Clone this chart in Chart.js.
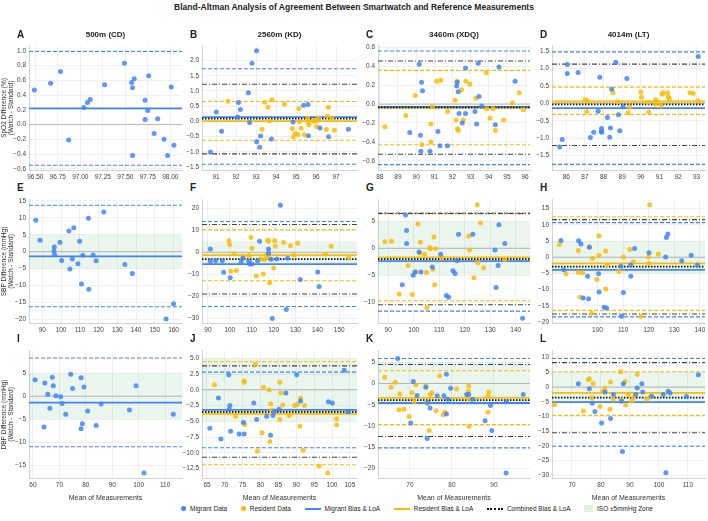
<!DOCTYPE html>
<html>
<head>
<meta charset="utf-8">
<script src="https://cdn.jsdelivr.net/npm/chart.js@4.4.0/dist/chart.umd.min.js"></script>
<style>
  body { margin: 0; width: 708px; height: 521px; background: #fff; position: relative; overflow: hidden;
         font-family: "Liberation Sans", Arial, sans-serif; color: #222; }
  .abs { position: absolute; }
  #title { left: 0; width: 708px; top: 2px; text-align: center; font-weight: bold; font-size: 8.5px; }
  .letter { font-weight: bold; font-size: 10px; }
  .ptitle { font-weight: bold; font-size: 8px; text-align: center; }
  #legend { left: 181px; width: 472px; top: 505px; display: flex; justify-content: space-between; align-items: center; font-size: 6.5px; }
  #legend span.item { display: flex; align-items: center; gap: 4px; }
  .dot { width: 5px; height: 5px; border-radius: 50%; display: inline-block; }
  .ln { width: 16px; height: 0; display: inline-block; }
  .sq { width: 9px; height: 7px; display: inline-block; }
</style>
</head>
<body>
<div id="title" class="abs">Bland-Altman Analysis of Agreement Between Smartwatch and Reference Measurements</div>
<div id="panels"></div>
<div id="legend" class="abs">
  <span class="item"><span class="dot" style="background:#4285F4"></span>Migrant Data</span>
  <span class="item"><span class="dot" style="background:#FBBC05"></span>Resident Data</span>
  <span class="item"><span class="ln" style="border-top:2px solid #4285F4"></span>Migrant Bias &amp; LoA</span>
  <span class="item"><span class="ln" style="border-top:2px solid #FBBC05"></span>Resident Bias &amp; LoA</span>
  <span class="item"><span class="ln" style="border-top:2px dotted #111"></span>Combined Bias &amp; LoA</span>
  <span class="item"><span class="sq" style="background:rgba(52,168,83,0.15)"></span>ISO ±5mmHg Zone</span>
</div>
<script>
// ---- data ----
const LETTERS = ['A','B','C','D','E','F','G','H','I','J','K','L'];
const COL_TITLES = ['500m (CD)', '2560m (KD)', '3460m (XDQ)', '4014m (LT)'];
const ROW_YTITLES = [
  ['SpO2 Difference (%)', '(Watch - Standard)'],
  ['SBP Difference (mmHg)', '(Watch - Standard)'],
  ['DBP Difference (mmHg)', '(Watch - Standard)']
];

// [mean, difference]
const migA = [[96.49,0.47],[96.67,0.56],[96.78,0.72],[96.87,-0.21],[97.04,0.23],[97.08,0.30],[97.11,0.34],[97.27,0.54],[97.49,0.83],[97.57,0.57],[97.58,0.50],[97.58,-0.42],[97.60,0.62],[97.72,0.33],[97.75,0.19],[97.76,0.66],[97.72,0.07],[97.86,0.08],[97.82,-0.12],[97.93,-0.20],[97.97,-0.42],[98.01,0.51],[98.04,-0.28]];
const migB = [[90.72,-1.01],[91.02,0.31],[91.28,-0.33],[92.08,0.14],[92.12,0.62],[92.22,0.39],[92.62,0.94],[92.68,-0.04],[92.8,1.91],[93.03,2.32],[93.03,-0.67],[93.18,-0.85],[93.23,-0.48],[93.77,-0.58],[94.85,-0.02],[95.38,0.53],[95.6,0.55],[95.62,-0.47],[96.2,-0.22],[96.63,-0.51],[97.62,-0.26]];
const resB = [[91.6,0.66],[93.3,-0.26],[93.43,0.63],[93.6,0.46],[93.67,0.01],[93.8,0.71],[94.42,0.56],[94.82,-0.24],[94.88,-0.51],[94.97,-0.40],[95.1,-0.43],[95.15,0.42],[95.18,-0.01],[95.25,-0.23],[95.42,-0.44],[95.58,0.10],[95.6,-0.04],[95.65,-0.11],[95.87,0.01],[95.92,0.03],[96.02,-0.17],[96.07,0.03],[96.12,0.09],[96.52,-0.27],[96.57,0.17],[96.62,0.46],[96.8,0.10],[96.92,-0.29]];
const migC = [[90.17,0.42],[90.3,0.23],[90.35,0.14],[89.65,-0.30],[90.24,-0.33],[90.26,-0.50],[90.76,-0.50],[91.2,-0.29],[91.31,-0.44],[91.73,-0.44],[92.23,0.19],[92.26,0.23],[92.32,0.13],[92.36,-0.10],[92.54,-0.20],[92.72,-0.10],[92.72,0.38],[93.24,-0.08],[93.33,-0.21],[93.42,0.43],[93.46,0.08],[93.61,-0.02],[94.36,-0.22],[94.56,0.39],[95.45,0.24]];
const resC = [[88.28,-0.24],[89.43,-0.12],[89.95,0.09],[90.32,-0.43],[90.81,-0.21],[90.81,-0.40],[90.9,-0.03],[91.13,0.24],[91.36,0.25],[91.73,-0.08],[92.15,0.04],[92.2,-0.17],[92.25,0.24],[92.28,-0.26],[92.32,-0.28],[92.5,0.15],[92.6,-0.17],[92.74,0.24],[92.96,0.21],[93.29,0.06],[93.86,0.33],[93.88,-0.05],[94.07,-0.15],[94.25,-0.05],[94.36,-0.28],[94.82,-0.17],[95.3,0.01],[95.68,0.12],[95.9,-0.06]];
const migD = [[85.64,-1.25],[85.78,-1.04],[86.05,1.11],[86.05,0.85],[86.63,0.88],[87.8,0.74],[87.71,-0.23],[87.29,-0.98],[87.47,-0.83],[87.89,-0.72],[87.89,-0.80],[87.9,-0.83],[88.21,-0.41],[88.33,-0.97],[88.37,-0.71],[88.44,0.40],[88.66,1.17],[88.8,-0.33],[88.87,-0.79],[89.05,-0.10],[89.25,0.71],[93.09,1.34]];
const resD = [[87.0,0.10],[87.13,0.07],[87.1,-0.24],[88.51,0.30],[88.75,0.04],[89.32,-0.27],[89.41,-0.11],[90.0,0.32],[90.04,0.17],[90.38,0.03],[90.43,-0.25],[90.76,-0.02],[90.81,0.10],[90.9,0.03],[91.1,-0.07],[91.15,0.26],[91.19,0.30],[91.44,0.30],[91.49,0.18],[91.53,0.13],[92.64,0.30],[92.82,0.28],[93.07,0.07]];
const migE = [[86.5,9.3],[88.8,3.4],[96.2,0.2],[96.4,1.4],[96.6,-0.9],[99.4,2.8],[100.3,-2.6],[104.2,6.1],[104.7,-5.1],[106.0,-2.2],[106.8,7.1],[109.0,-3.6],[109.9,3.1],[110.9,-9.6],[111.6,-1.1],[114.6,9.9],[114.8,-11.1],[117.1,-1.0],[118.7,-2.7],[122.8,11.7],[134.0,-3.8],[138.0,-6.5],[160.0,-15.4],[156.0,-19.9]];
const migF = [[91.1,1.5],[91.1,-4.1],[93.5,-3.8],[96.6,-3.8],[97.2,-9.0],[100.2,-11.5],[105.2,-4.4],[105.9,-2.7],[108.6,-4.1],[109.1,-5.3],[110.1,-5.3],[112.7,-3.8],[113.6,5.0],[117.7,1.5],[117.7,-0.4],[118.8,-3.1],[119.4,-30.0],[121.6,-3.0],[123.1,21.4],[126.4,-2.7],[125.8,-26.0],[132.2,-12.4],[140.2,-8.9],[140.8,-15.5]];
const resF = [[99.6,5.2],[99.9,3.6],[100.4,-8.6],[102.0,-0.6],[103.0,-8.3],[106.3,-1.8],[108.8,-1.5],[109.7,6.7],[110.1,1.9],[112.1,-10.8],[113.9,-3.0],[115.3,-9.8],[115.8,-3.4],[116.7,-1.5],[117.3,5.5],[117.7,5.0],[117.4,-2.4],[118.2,-13.8],[120.0,-7.1],[120.5,5.2],[120.8,2.7],[124.6,4.4],[127.7,3.0],[129.2,-1.2],[131.0,4.1],[143.7,-0.9],[146.3,2.7],[154.3,-2.4]];
const migG = [[96.8,6.2],[97.2,3.3],[97.2,0.9],[95.5,-6.8],[99.8,-5.0],[100.5,-4.4],[102.1,-0.7],[102.8,-4.4],[107.3,-3.5],[110.6,-1.1],[112.8,-8.8],[113.7,-9.1],[115.4,-4.2],[116.2,-4.7],[117.0,-2.3],[117.6,2.6],[123.2,2.6],[131.9,-0.3],[132.3,-7.3],[133.1,-3.2],[133.4,4.4],[135.7,0.9],[142.7,-13.0]];
const resG = [[88.7,1.2],[91.3,1.3],[94.3,-8.5],[97.8,-3.2],[99.5,-8.6],[100.8,-4.4],[101.7,4.5],[102.6,1.1],[102.4,-0.9],[104.3,-1.1],[105.0,-4.5],[106.3,0.1],[106.5,-0.1],[107.6,-3.9],[108.0,2.1],[108.6,-0.1],[108.2,-6.8],[105.2,-11.0],[111.0,-1.8],[121.6,2.3],[121.9,-0.3],[123.6,-5.5],[124.9,8.1],[125.2,-2.7],[126.2,4.7],[127.4,-3.6],[135.7,-2.1]];
const migH = [[85.7,5.2],[86.8,-3.9],[92.6,5.1],[93.5,4.1],[94.4,-12.6],[96.1,-5.9],[96.5,-12.8],[96.8,3.1],[100.4,-5.1],[100.6,-10.7],[102.6,-15.4],[103.5,-15.7],[109.1,-2.8],[109.4,-18.2],[110.1,-10.9],[113.0,-2.4],[113.0,-5.9],[114.5,2.7],[120.1,1.4],[126.6,0.1],[126.9,6.1],[127.5,7.2],[132.9,-1.1],[136.6,0.6],[139.0,-2.4]];
const resH = [[85.1,3.9],[87.7,-5.1],[92.5,2.1],[92.5,-4.7],[93.2,-12.3],[94.2,-4.9],[96.8,3.2],[98.1,-0.4],[99.7,-6.9],[100.6,6.6],[100.6,0.6],[103.2,1.9],[103.9,-2.4],[103.2,-9.8],[97.8,-17.3],[108.4,-4.4],[110.1,0.1],[112.6,2.4],[114.0,-1.4],[119.9,0.1],[120.1,-1.9],[120.4,16.2],[123.8,1.0],[117.1,-18.3]];
const migI = [[60.8,3.6],[64.5,2.9],[64.2,-6.7],[65.6,0.4],[66.4,-2.6],[67.3,4.1],[67.7,2.3],[68.7,0.1],[70.5,-0.1],[71.0,-1.6],[72.4,-3.9],[74.3,4.8],[75.0,1.7],[78.2,4.0],[78.2,-7.1],[78.7,-6.0],[79.3,2.0],[80.7,-3.2],[83.9,-6.4],[85.8,-1.7],[96.5,-3.0],[99.0,2.3],[102.0,-16.7],[113.1,-3.9]];
const migJ = [[65.8,-6.1],[68.2,-1.3],[68.9,-7.8],[71.1,2.4],[71.2,-3.1],[71.4,-2.5],[71.6,-6.6],[74.0,-7.0],[75.2,-5.2],[75.4,-7.0],[78.1,-2.1],[78.9,-4.7],[81.7,-4.2],[82.8,-7.2],[83.5,-4.1],[83.8,-3.4],[85.2,-3.1],[87.1,-0.5],[90.1,2.4],[91.2,-1.8],[99.0,-1.9],[100.1,-2.1],[103.4,3.1],[104.5,-3.5]];
const resJ = [[67.1,0.8],[73.0,-4.2],[75.4,1.4],[75.4,1.2],[75.6,-5.5],[78.6,4.0],[79.1,-9.7],[80.4,-6.8],[80.8,0.4],[82.4,-0.05],[82.6,-8.2],[82.8,-2.2],[83.1,-3.2],[85.4,1.2],[85.4,-4.7],[85.7,-0.5],[86.2,-2.4],[88.0,-4.1],[89.6,-2.5],[90.3,-2.3],[91.0,-5.8],[91.2,-1.3],[92.3,-2.5],[91.9,-9.6],[96.4,-12.1],[98.8,-13.2],[101.3,-4.6],[101.3,-5.6]];
const migK = [[67.1,5.9],[70.8,0.5],[71.7,-2.8],[70.2,-9.3],[73.8,-0.9],[74.2,-4.5],[74.1,-13.0],[74.8,-5.8],[76.5,-2.9],[78.1,-2.9],[78.7,2.2],[78.7,-7.2],[79.0,-3.7],[79.7,-1.1],[83.5,-2.6],[84.0,-2.6],[84.9,-3.7],[87.9,-8.8],[89.2,-5.2],[89.5,-11.1],[92.9,-21.1],[93.0,-4.3],[97.0,-2.6]];
const resK = [[64.0,1.5],[65.5,-0.9],[66.5,0.3],[67.6,-2.4],[67.4,-6.2],[68.6,-6.1],[69.8,-7.8],[70.5,-2.2],[71.0,-4.3],[71.4,-0.3],[73.8,-0.6],[74.1,-4.7],[74.6,-11.1],[74.8,-2.6],[75.2,-2.2],[76.2,-6.4],[77.1,1.8],[77.9,-7.4],[78.3,-6.8],[81.1,-1.3],[83.9,-1.8],[84.0,-0.6],[84.0,-3.7],[84.1,-10.1],[88.6,-2.8],[88.8,-2.0],[88.6,-6.8]];
const migL = [[72.2,1.1],[76.0,-0.6],[77.0,-5.5],[77.9,-8.3],[80.2,-12.2],[81.4,-1.7],[83.3,-10.7],[84.3,-2.5],[87.1,-4.8],[87.4,-21.9],[87.7,1.1],[92.0,-2.5],[92.5,-0.3],[94.1,1.1],[94.4,-1.7],[97.5,-3.1],[101.5,-2.5],[103.2,-1.4],[103.8,-2.0],[109.5,-3.2],[113.6,4.2],[102.4,-29.1]];
const resL = [[64.0,-6.0],[73.9,-8.1],[75.6,2.5],[76.0,2.8],[76.8,-3.6],[77.3,1.1],[79.7,-6.6],[80.6,-1.4],[81.4,-0.3],[83.1,-7.5],[83.3,1.7],[84.3,-4.1],[86.8,5.2],[87.1,-4.4],[88.3,1.9],[88.5,-6.1],[89.4,-2.4],[90.6,-4.8],[91.1,-3.6],[92.5,4.4],[95.8,-4.1],[96.9,-3.4]];

const MIGRANT = [migA, migB, migC, migD, migE, migF, migG, migH, migI, migJ, migK, migL];
const RESIDENT = [null, resB, resC, resD, null, resF, resG, resH, null, resJ, resK, resL];

// bias and limits of agreement, one entry per panel
const MIG_BIAS = [0.22, 0.14, -0.03, -0.14, -1.4, -5.4, -2.4, -3.9, -1.4, -3.2, -4.6, -5.1];
const MIG_UP   = [0.99, 1.73, 0.56, 1.47, 13.7, 14.0, 6.55, 10.7, 8.3, 2.8, 5.9, 9.7];
const MIG_LO   = [-0.55, -1.41, -0.64, -1.75, -16.3, -24.6, -11.7, -18.4, -11.0, -9.2, -15.2, -20.1];
const RES_BIAS = [null, 0.01, -0.04, 0.05, null, -1.3, -1.7, -1.9, null, -3.8, -3.4, -2.0];
const RES_UP   = [null, 0.65, 0.355, 0.46, null, 10.2, 6.4, 12.5, null, 4.46, 3.0, 5.2];
const RES_LO   = [null, -0.62, -0.43, -0.32, null, -12.9, -9.75, -16.4, null, -11.9, -9.7, -9.6];
const ALL_BIAS = [null, 0.09, -0.035, -0.03, null, -3.1, -2.0, -2.9, null, -3.5, -3.9, -3.6];
const ALL_UP   = [null, 1.22, 0.455, 1.12, null, 12.6, 6.48, 11.6, null, 3.8, 4.5, 8.3];
const ALL_LO   = [null, -1.07, -0.53, -1.21, null, -18.9, -10.5, -17.5, null, -10.7, -12.5, -15.5];
const ISO_LIMIT = 5;

// axis ranges and ticks
const X_RANGE = [[96.43,98.13],[90.3,98.05],[87.9,96.27],[85.23,93.45],[82.9,164.5],[87.3,158.1],[86.0,145.6],[82.2,142.0],[58.5,116.4],[63.6,107.0],[62.4,98.6],[63.1,115.9]];
const Y_RANGE = [[-0.615,1.066],[-1.60,2.48],[-0.697,0.614],[-1.91,1.64],[-21.1,15.3],[-32.1,23.8],[-13.9,9.0],[-20.3,17.7],[-17.8,9.86],[-14.0,6.17],[-22.3,7.7],[-30.9,12.3]];
const X_TICKS = [
  [96.5,96.75,97,97.25,97.5,97.75,98], [91,92,93,94,95,96,97], [88,89,90,91,92,93,94,95,96], [86,87,88,89,90,91,92,93],
  [90,100,110,120,130,140,150,160], [90,100,110,120,130,140,150], [90,100,110,120,130,140], [100,110,120,130,140],
  [60,70,80,90,100,110], [65,70,75,80,85,90,95,100,105], [70,80,90], [70,80,90,100,110]
];
const Y_TICKS = [
  [-0.6,-0.4,-0.2,0,0.2,0.4,0.6,0.8,1.0], [-1.5,-1,-0.5,0,0.5,1,1.5,2], [-0.6,-0.4,-0.2,0,0.2,0.4,0.6], [-1.5,-1,-0.5,0,0.5,1,1.5],
  [-20,-15,-10,-5,0,5,10,15], [-30,-20,-10,0,10,20], [-10,-5,0,5], [-20,-15,-10,-5,0,5,10,15],
  [-15,-10,-5,0,5], [-12.5,-10,-7.5,-5,-2.5,0,2.5,5], [-20,-15,-10,-5,0,5], [-30,-25,-20,-15,-10,-5,0,5,10]
];
const X_DEC = [2,0,0,0, 0,0,0,0, 0,0,0,0];
const Y_DEC = [1,1,1,1, 0,0,0,0, 0,1,0,0];

// ---- layout ----
const COL_X = [[29,182],[202,357],[378,530],[552,705]];
const ROW_Y = [[43,170],[197,323],[348,478]];
const BLUE = '#4285F4', GOLD = '#FBBC05';

function fmt(v, d) {
  const s = Math.abs(v).toFixed(d);
  return (v < -1e-9 ? '\u2212' : '') + s;
}

const bandPlugin = {
  id: 'isoBand',
  beforeDatasetsDraw(chart, args, opts) {
    if (!opts.show) return;
    const a = chart.chartArea, y = chart.scales.y;
    const t = y.getPixelForValue(ISO_LIMIT), b = y.getPixelForValue(-ISO_LIMIT);
    const ctx = chart.ctx;
    ctx.save();
    ctx.fillStyle = 'rgba(52,168,83,0.10)';
    ctx.fillRect(a.left, t, a.right - a.left, b - t);
    ctx.restore();
  }
};

function hline(i, v, color, width, dash, order) {
  return {
    type: 'line',
    data: [{x: X_RANGE[i][0], y: v}, {x: X_RANGE[i][1], y: v}],
    borderColor: color, borderWidth: width, borderDash: dash,
    pointRadius: 0, order: order, clip: false
  };
}

function addText(cls, text, left, top, extra) {
  const d = document.createElement('div');
  d.className = 'abs ' + cls;
  d.textContent = text;
  d.style.left = left + 'px';
  d.style.top = top + 'px';
  if (extra) Object.assign(d.style, extra);
  document.body.appendChild(d);
}

function makePanel(i) {
  const r = Math.floor(i / 4), c = i % 4;
  const [L, R] = COL_X[c], [T, B] = ROW_Y[r];
  const yW = c === 0 ? 29 : 22;
  const xH = r === 2 ? 24 : 12;
  const padT = 4, padR = 4;

  const cv = document.createElement('canvas');
  const w = yW + (R - L) + padR, h = padT + (B - T) + xH;
  cv.width = w; cv.height = h;
  cv.style.position = 'absolute';
  cv.style.left = (L - yW) + 'px';
  cv.style.top = (T - padT) + 'px';
  document.getElementById('panels').appendChild(cv);

  addText('letter', LETTERS[i], L - 12, T - (r === 0 ? 14 : 15));
  if (r === 0) addText('ptitle', COL_TITLES[c], L, T - 13, {width: (R - L) + 'px'});

  const ds = [];
  ds.push({
    type: 'scatter', order: 0,
    data: MIGRANT[i].map(p => ({x: p[0], y: p[1]})),
    backgroundColor: 'rgba(66,133,244,0.85)', borderWidth: 0, pointRadius: 2.5
  });
  if (RESIDENT[i]) {
    ds.push({
      type: 'scatter', order: 0,
      data: RESIDENT[i].map(p => ({x: p[0], y: p[1]})),
      backgroundColor: 'rgba(251,188,5,0.85)', borderWidth: 0, pointRadius: 2.5
    });
  }
  ds.push(hline(i, MIG_BIAS[i], BLUE, 1.8, [], 2));
  ds.push(hline(i, MIG_UP[i], BLUE, 1.1, [4, 2], 4));
  ds.push(hline(i, MIG_LO[i], BLUE, 1.1, [4, 2], 4));
  if (RES_BIAS[i] !== null) {
    ds.push(hline(i, RES_BIAS[i], GOLD, 1.8, [], 2));
    ds.push(hline(i, RES_UP[i], GOLD, 1.1, [4, 2], 4));
    ds.push(hline(i, RES_LO[i], GOLD, 1.1, [4, 2], 4));
    ds.push(hline(i, ALL_BIAS[i], '#111', 1.8, [1.5, 1.5], 1));
    ds.push(hline(i, ALL_UP[i], '#444', 1.1, [5, 2, 1, 2], 3));
    ds.push(hline(i, ALL_LO[i], '#444', 1.1, [5, 2, 1, 2], 3));
  }
  ds.push(hline(i, 0, '#b5b5b5', 1, [], 9));

  const tickFont = {family: '"Liberation Sans", Arial, sans-serif', size: 6.5};
  new Chart(cv, {
    type: 'scatter',
    data: {datasets: ds},
    plugins: [bandPlugin],
    options: {
      responsive: false, animation: false, devicePixelRatio: 1,
      layout: {padding: {top: padT, right: padR, left: 0, bottom: 0}},
      plugins: {legend: {display: false}, tooltip: {enabled: false}, isoBand: {show: r > 0}},
      scales: {
        x: {
          type: 'linear', min: X_RANGE[i][0], max: X_RANGE[i][1],
          afterBuildTicks: s => { s.ticks = X_TICKS[i].map(v => ({value: v})); },
          afterFit: s => { s.height = xH; },
          ticks: {font: tickFont, color: '#444', padding: 3, maxRotation: 0, autoSkip: false,
                  callback: v => fmt(v, X_DEC[i])},
          grid: {color: '#ececec', lineWidth: 0.8, drawTicks: false},
          border: {color: '#d4d4d4'},
          title: {display: r === 2, text: 'Mean of Measurements', color: '#333',
                  font: {family: tickFont.family, size: 7}, padding: {top: 1, bottom: 0}}
        },
        y: {
          min: Y_RANGE[i][0], max: Y_RANGE[i][1],
          afterBuildTicks: s => { s.ticks = Y_TICKS[i].map(v => ({value: v})); },
          afterFit: s => { s.width = yW; },
          ticks: {font: tickFont, color: '#444', padding: 3, autoSkip: false,
                  callback: v => fmt(v, Y_DEC[i])},
          grid: {color: '#ececec', lineWidth: 0.8, drawTicks: false},
          border: {color: '#d4d4d4'},
          title: {display: c === 0, text: ROW_YTITLES[r], color: '#333',
                  font: {family: tickFont.family, size: 6.5, lineHeight: 1.15}, padding: {top: 0, bottom: 0}}
        }
      }
    }
  });
}

for (let i = 0; i < 12; i++) makePanel(i);
</script>
</body>
</html>
